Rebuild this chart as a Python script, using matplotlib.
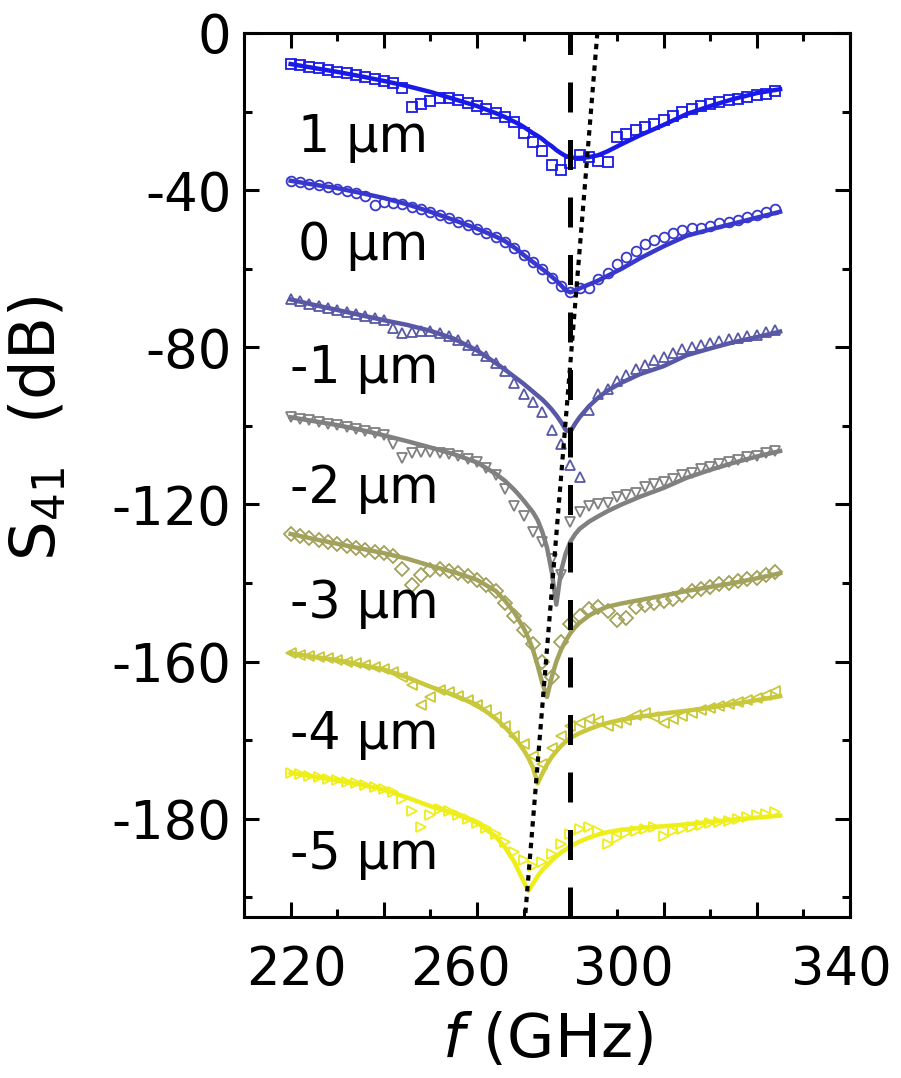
import numpy as np
import matplotlib
matplotlib.use("Agg")
import matplotlib.pyplot as plt
from matplotlib.ticker import MultipleLocator

# ---------------- data ----------------
labels = ["1 \u03bcm", "0 \u03bcm", "-1 \u03bcm", "-2 \u03bcm", "-3 \u03bcm", "-4 \u03bcm", "-5 \u03bcm"]
colors = ["#1a1ae8", "#3838cc", "#5858a6", "#808080", "#a2a25c", "#c8c83a", "#eeee18"]
markers = ["s", "o", "^", "v", "D", "<", ">"]

# measured frequencies (GHz)
f_meas = np.arange(220, 325, 2)

meas_1 = [-7.8, -8.2, -8.6, -9.0, -9.4, -9.8, -10.3, -10.7, -11.2, -11.6, -12.1, -12.6, -14.0,
          -18.8, -18.0, -17.3, -16.5, -16.6, -17.1, -17.8, -18.6, -19.4, -20.3, -21.3, -22.6,
          -25.5, -27.8, -30.0, -33.5, -34.8, -33.0, -31.0, -31.5, -32.5, -32.8, -26.5, -25.6,
          -24.8, -24.0, -23.1, -22.2, -21.2, -20.2, -19.4, -18.7, -18.1, -17.6, -17.1, -16.7,
          -16.3, -15.8, -15.4, -14.8]
meas_0 = [-37.6, -38.0, -38.4, -38.8, -39.2, -39.6, -40.2, -40.6, -41.5, -43.8, -43.0, -43.2,
          -43.6, -44.2, -44.8, -45.6, -46.4, -47.2, -48.0, -48.8, -49.8, -50.8, -51.9, -53.2,
          -54.8, -56.5, -58.2, -60.0, -62.3, -64.5, -65.8, -65.0, -64.8, -62.5, -61.0, -58.8,
          -57.0, -55.5, -53.8, -52.7, -51.8, -51.0, -50.2, -49.7, -49.6, -49.0, -48.4, -48.0,
          -47.5, -46.8, -46.2, -45.6, -44.8]
meas_m1 = [-67.8, -68.3, -68.9, -69.4, -70.0, -70.5, -71.0, -71.5, -72.0, -72.5, -73.0, -75.0,
           -76.3, -76.0, -75.8, -75.8, -76.4, -77.2, -78.2, -79.5, -80.8, -82.3, -84.0, -86.0,
           -89.0, -92.0, -94.0, -96.5, -101.0, -104.5, -110.0, -113.0, -96.0, -92.0, -90.5,
           -88.5, -87.0, -85.5, -84.5, -83.3, -82.5, -81.5, -80.5, -79.8, -79.3, -78.8, -78.3,
           -78.0, -77.6, -77.2, -76.8, -76.2, -75.6]
meas_m2 = [-97.8, -98.2, -98.6, -99.0, -99.4, -99.8, -100.3, -100.8, -101.3, -101.8, -102.3,
           -104.5, -108.2, -107.0, -106.7, -106.6, -106.8, -107.2, -107.6, -108.4, -109.3,
           -110.6, -112.5, -116.0, -120.5, -123.0, -127.0, -129.5, -134.0, -138.0, -124.5,
           -122.0, -120.5, -119.8, -119.5, -118.2, -117.5, -117.0, -115.5, -114.8, -114.3,
           -113.5, -112.5, -112.0, -111.0, -110.5, -109.8, -109.2, -108.6, -108.0, -107.6,
           -107.0, -106.3]
meas_m3 = [-127.5, -128.0, -128.5, -129.0, -129.5, -130.0, -130.5, -131.0, -131.5, -132.0,
           -132.4, -133.0, -136.5, -140.5, -138.0, -136.8, -136.5, -137.0, -137.5, -138.2,
           -139.2, -140.5, -142.0, -145.0, -148.5, -152.0, -155.5, -160.0, -164.0, -155.0,
           -150.4, -148.5, -146.5, -146.0, -147.0, -149.5, -149.0, -146.0, -145.5, -145.2,
           -144.5, -144.0, -143.0, -142.0, -141.5, -141.0, -140.3, -140.0, -139.5, -139.0,
           -138.6, -138.0, -137.2]
meas_m4 = [-157.8, -158.2, -158.6, -158.9, -159.2, -159.6, -160.0, -160.4, -160.9, -161.4,
           -162.0, -162.7, -164.0, -166.0, -171.0, -169.0, -167.3, -167.8, -168.8, -169.8,
           -171.0, -172.2, -174.0, -176.5, -179.0, -181.0, -184.0, -186.0, -182.0, -179.0,
           -176.5, -175.5, -174.5, -175.0, -176.5, -175.5, -174.8, -173.5, -173.2, -174.0,
           -175.5, -174.5, -173.8, -173.0, -172.3, -171.8, -171.2, -170.8, -170.3, -169.7,
           -169.2, -168.5, -167.6]
meas_m5 = [-188.3, -188.7, -189.0, -189.4, -189.8, -190.2, -190.6, -191.0, -191.5, -192.0,
           -192.5, -193.2, -195.0, -198.0, -202.0, -199.0, -197.5, -198.0, -199.0, -200.0,
           -201.0, -202.3, -204.0, -206.0, -208.5, -210.5, -212.0, -211.0, -209.0, -206.5,
           -204.0, -202.5, -202.0, -203.0, -206.5, -205.0, -203.5, -203.0, -202.5, -202.2,
           -204.5, -203.0, -202.5, -202.0, -201.5, -201.0, -200.8, -200.5, -200.0, -199.5,
           -199.0, -198.8, -198.4]

# fit curves
f_fit = [220, 225, 230, 235, 240, 245, 250, 255, 260, 264, 266, 268, 269, 270, 271, 272, 273,
         274, 275, 276, 277, 278, 279, 280, 281, 282, 284, 286, 288, 291, 295, 300, 305, 310,
         315, 320, 325]
fit_1 = [-7.9, -8.9, -9.9, -11.0, -12.2, -13.5, -15.0, -16.8, -18.6, -20.4, -21.4, -22.6, -23.2,
         -23.9, -24.7, -25.5, -26.2, -27.0, -28.0, -28.8, -29.8, -30.6, -31.3, -31.6, -31.8,
         -31.8, -31.6, -31.1, -30.1, -28.3, -26.0, -23.4, -20.6, -18.6, -16.8, -15.3, -14.3]
fit_0 = [-37.6, -38.6, -39.5, -40.7, -42.0, -43.6, -45.5, -47.6, -49.8, -51.8, -53.0, -54.6,
         -55.5, -56.5, -57.4, -58.3, -59.2, -60.1, -61.0, -62.0, -63.0, -64.2, -65.5, -66.0,
         -65.6, -65.0, -64.0, -63.0, -61.8, -60.0, -57.3, -54.3, -51.6, -50.0, -48.5, -47.0,
         -45.5]
fit_m1 = [-67.8, -69.2, -70.5, -71.8, -73.1, -74.3, -75.8, -77.8, -80.8, -84.0, -85.7, -87.5,
          -88.4, -89.3, -90.3, -91.3, -92.3, -93.3, -94.5, -95.8, -97.3, -99.0, -101.0, -101.5,
          -99.5, -97.8, -95.0, -92.8, -91.0, -89.0, -86.8, -84.8, -82.0, -80.3, -78.7, -77.4,
          -76.0]
fit_m2 = [-97.8, -98.8, -99.8, -101.0, -102.4, -103.9, -105.5, -107.2, -109.3, -112.2, -114.0,
          -116.3, -117.6, -119.0, -120.5, -122.0, -124.0, -127.0, -131.0, -137.0, -145.5,
          -137.0, -132.5, -129.5, -127.6, -126.2, -124.4, -123.0, -121.7, -120.0, -118.0,
          -115.8, -113.2, -111.2, -109.4, -107.8, -106.4]
fit_m3 = [-127.5, -128.8, -130.0, -131.2, -132.4, -133.8, -135.6, -137.2, -139.2, -142.0,
          -144.5, -147.5, -149.5, -151.5, -154.0, -157.0, -161.0, -165.5, -169.0, -164.0,
          -160.0, -157.0, -154.7, -152.8, -151.3, -150.1, -148.3, -147.0, -146.0, -145.2,
          -144.3, -143.2, -142.0, -141.0, -140.0, -138.8, -137.5]
fit_m4 = [-157.8, -158.8, -159.6, -160.8, -162.0, -164.0, -166.4, -168.5, -171.0, -174.5,
          -176.7, -179.3, -180.8, -182.5, -184.5, -187.0, -191.0, -188.5, -186.2, -184.3,
          -182.8, -181.5, -180.4, -179.5, -178.8, -178.2, -177.2, -176.3, -175.6, -174.8,
          -174.0, -173.2, -172.5, -171.7, -170.8, -169.8, -168.8]
fit_m5 = [-188.3, -189.3, -190.2, -191.3, -192.6, -194.6, -196.8, -198.6, -201.0, -204.5,
          -207.3, -211.0, -213.5, -216.0, -218.3, -216.5, -214.6, -213.0, -211.8, -210.6,
          -209.6, -208.6, -207.8, -207.0, -206.4, -205.8, -204.8, -204.0, -203.4, -202.8,
          -202.3, -201.9, -201.4, -200.8, -200.2, -199.7, -199.2]

meas_all = [meas_1, meas_0, meas_m1, meas_m2, meas_m3, meas_m4, meas_m5]
fit_all = [fit_1, fit_0, fit_m1, fit_m2, fit_m3, fit_m4, fit_m5]

# label anchors (frequency, dB) for the curve names
label_f = [221.5, 221.5, 219.8, 219.8, 219.8, 219.8, 219.8]
label_db = [-30.3, -57.8, -89.2, -119.5, -149.0, -182.2, -212.7]

# reference lines
f_design = 280.0
guide_f = [285.8, 270.3]
guide_db = [0.0, -225.0]

# axis ticks / labels
ytick_vals = [0, -40, -80, -120, -160, -200]
ytick_text = ["0", "-40", "-80", "-120", "-160", "-180"]
xlabel_pos = [221.2, 256.4, 291.4, 338.1]
xlabel_text = ["220", "260", "300", "340"]

# ---------------- figure ----------------
fig = plt.figure(figsize=(9.01, 10.78), dpi=100)
ax = fig.add_axes([244 / 901, 1 - 917 / 1078, (850 - 244) / 901, (917 - 33) / 1078])

for meas, fit, c, m in zip(meas_all, fit_all, colors, markers):
    ax.plot(f_meas, meas, linestyle="none", marker=m, markersize=7, markerfacecolor="none",
            markeredgecolor=c, markeredgewidth=1.3, zorder=2)
    ax.plot(f_fit, fit, color=c, lw=3.2, zorder=3, solid_joinstyle="round")

ax.axvline(f_design, color="black", lw=3.6, linestyle=(0, (6, 5.5)), zorder=5)
ax.plot(guide_f, guide_db, color="black", lw=3.0, linestyle=(0, (1.3, 1.3)), zorder=6)

for lf, ld, txt in zip(label_f, label_db, labels):
    ax.text(lf, ld, txt, fontsize=36.5, ha="left", va="baseline", color="black")

ax.set_xlim(210, 340)
ax.set_ylim(-225, 0)
ax.xaxis.set_major_locator(MultipleLocator(20))
ax.xaxis.set_minor_locator(MultipleLocator(10))
ax.set_xticks(ax.get_xticks())
ax.set_xticklabels([])
ax.set_xlim(210, 340)
ax.set_yticks(ytick_vals, ytick_text)
ax.yaxis.set_minor_locator(MultipleLocator(20))

ax.tick_params(which="both", direction="in", top=True, right=True, width=2.2)
ax.tick_params(which="major", length=11)
ax.tick_params(which="minor", length=6)
ax.tick_params(axis="y", labelsize=38, pad=9)
for s in ax.spines.values():
    s.set_linewidth(2.2)

for xp, xt in zip(xlabel_pos, xlabel_text):
    ax.text(xp, -0.077, xt, transform=ax.get_xaxis_transform(), ha="center", va="baseline",
            fontsize=38)

fig.text(547 / 901, 1 - 1057 / 1078, r"$\mathit{f}$ (GHz)", ha="center", va="baseline", fontsize=44)
fig.text(38 / 901, 1 - 428 / 1078, r"$\mathregular{S_{41}}$  (dB)", rotation=90,
         ha="center", va="center", fontsize=45)

fig.savefig("out.png", dpi=100)
